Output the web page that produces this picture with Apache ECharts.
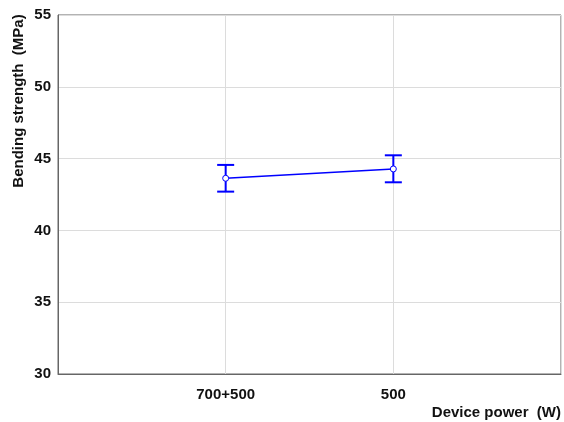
<!DOCTYPE html>
<html>
<head>
<meta charset="utf-8">
<script src="https://cdn.jsdelivr.net/npm/echarts@6/dist/echarts.min.js"></script>
<style>
  html, body { margin: 0; padding: 0; background: #fff; }
  #main { width: 564px; height: 422px; }
</style>
</head>
<body>
<div id="main"></div>
<script>
const categories = ['', '700+500', '500', ''];
const means = [null, 43.63, 44.28, null];
const lower = [42.70, 43.35];
const upper = [44.56, 45.23];
const yTicks = [30, 35, 40, 45, 50, 55];

const chart = echarts.init(document.getElementById('main'));
const font = 'Liberation Sans, Arial, sans-serif';

const errData = [[1, lower[0], upper[0]], [2, lower[1], upper[1]]];

function renderErr(params, api) {
  const x = api.value(0);
  const lo = api.coord([x, api.value(1)]);
  const hi = api.coord([x, api.value(2)]);
  const hw = 8.5;
  const style = { stroke: '#0000ff', lineWidth: 2, fill: null };
  return {
    type: 'group',
    children: [
      { type: 'line', shape: { x1: lo[0], y1: lo[1], x2: hi[0], y2: hi[1] }, style },
      { type: 'line', shape: { x1: lo[0] - hw, y1: lo[1], x2: lo[0] + hw, y2: lo[1] }, style },
      { type: 'line', shape: { x1: hi[0] - hw, y1: hi[1], x2: hi[0] + hw, y2: hi[1] }, style }
    ]
  };
}

chart.setOption({
  animation: false,
  grid: {
    left: 58, right: 0, top: 15, bottom: 48,
    show: true, borderColor: '#666', borderWidth: 1
  },
  graphic: [{
    type: 'text',
    x: 19, y: 101,
    rotation: Math.PI / 2,
    style: {
      text: 'Bending strength  (MPa)',
      font: 'bold 15px ' + font,
      fill: '#111',
      align: 'center',
      verticalAlign: 'middle'
    }
  }],
  xAxis: {
    type: 'category',
    data: categories,
    boundaryGap: false,
    name: 'Device power  (W)',
    nameLocation: 'end',
    nameGap: 0,
    nameTextStyle: {
      fontFamily: font, fontWeight: 'bold', fontSize: 15, color: '#111',
      align: 'right', verticalAlign: 'top', padding: [31, 0, 0, 0]
    },
    axisLine: { lineStyle: { color: '#666' } },
    axisTick: { show: false },
    axisLabel: { fontFamily: font, fontWeight: 'bold', fontSize: 15, color: '#111', margin: 13 },
    splitLine: { show: true, lineStyle: { color: '#dcdcdc' } }
  },
  yAxis: {
    type: 'value',
    min: yTicks[0], max: yTicks[yTicks.length - 1], interval: 5,
    axisLine: { show: true, lineStyle: { color: '#666' } },
    axisTick: { show: false },
    axisLabel: { fontFamily: font, fontWeight: 'bold', fontSize: 15, color: '#111', margin: 7 },
    splitLine: { show: true, lineStyle: { color: '#dcdcdc' } }
  },
  series: [
    {
      type: 'line',
      data: means,
      connectNulls: false,
      symbol: 'circle',
      symbolSize: 6,
      lineStyle: { color: '#0000ff', width: 1.5 },
      itemStyle: { color: '#fff', borderColor: '#0000ff', borderWidth: 1 },
      z: 3
    },
    {
      type: 'custom',
      data: errData,
      renderItem: renderErr,
      encode: { x: 0, y: [1, 2] },
      z: 2
    }
  ]
});
</script>
</body>
</html>
